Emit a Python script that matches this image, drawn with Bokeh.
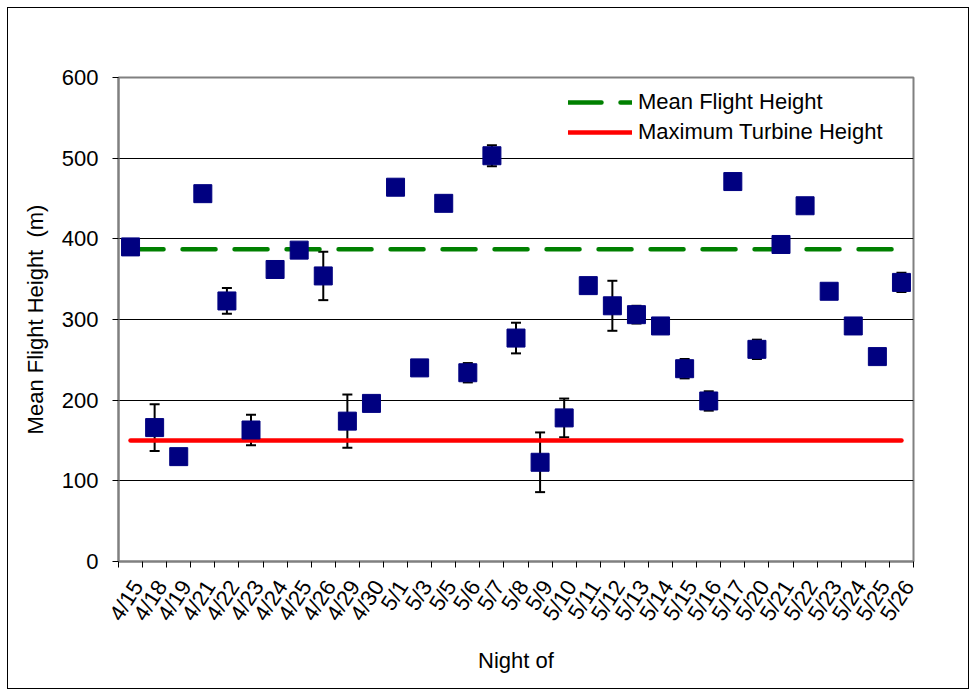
import math
from bokeh.plotting import figure
from bokeh.models import (Range1d, FixedTicker, Whisker, TeeHead, ColumnDataSource,
                          Legend, LegendItem)
from bokeh.embed import file_html
from bokeh.resources import INLINE

nights = ["4/15", "4/18", "4/19", "4/21", "4/22", "4/23", "4/24", "4/25", "4/26",
          "4/29", "4/30", "5/1", "5/3", "5/5", "5/6", "5/7", "5/8", "5/9", "5/10",
          "5/11", "5/12", "5/13", "5/14", "5/15", "5/16", "5/17", "5/20", "5/21",
          "5/22", "5/23", "5/24", "5/25", "5/26"]
mean_height = [390, 166, 130, 456, 323, 163, 362, 386, 354, 174, 196, 464, 240, 444,
               234, 503, 277, 123, 178, 342, 317, 306, 292, 239, 199, 471, 263, 393,
               441, 335, 292, 254, 346]
error = [0, 29, 0, 0, 16, 19, 0, 0, 30, 33, 0, 0, 0, 0, 12, 13, 19, 37, 24, 0, 31,
         11, 0, 12, 12, 0, 12, 0, 0, 0, 0, 0, 12]
mean_flight_height = 387
max_turbine_height = 150
y_ticks = [0, 100, 200, 300, 400, 500, 600]

FONT = "Liberation Sans"
n = len(nights)
xc = [i + 0.5 for i in range(n)]
LABEL_SHIFT = 0.3  # label anchor offset (styling only)
xl = [x + LABEL_SHIFT for x in xc]

src = ColumnDataSource(dict(
    x=xc, y=mean_height,
    upper=[m + e for m, e in zip(mean_height, error)],
    lower=[m - e for m, e in zip(mean_height, error)],
))

p = figure(width=962, height=682, output_backend="svg", toolbar_location=None,
           x_range=Range1d(0, n), y_range=Range1d(0, 600),
           min_border_left=110, min_border_right=57, min_border_top=69,
           min_border_bottom=129)
p.styles = {"margin-left": "7px", "margin-top": "7px", "border": "1px solid #000000"}
p.background_fill_color = "white"
p.border_fill_color = "white"
p.outline_line_color = "#808080"
p.outline_line_width = 2

# axes
p.xaxis.ticker = FixedTicker(ticks=xl, minor_ticks=list(range(n + 1)))
p.xaxis.major_label_overrides = {x: lab for x, lab in zip(xl, nights)}
p.xaxis.major_label_orientation = 1.0
p.xaxis.major_tick_out = 0
p.xaxis.major_tick_in = 0
p.xaxis.minor_tick_out = 6
p.xaxis.minor_tick_in = 0
p.xaxis.minor_tick_line_color = "#000000"
p.xaxis.axis_label = "Night of"
p.yaxis.ticker = FixedTicker(ticks=y_ticks)
p.yaxis.minor_tick_line_color = None
p.yaxis.major_tick_out = 6
p.yaxis.major_tick_in = 0
p.yaxis.axis_label = "Mean Flight Height\u00a0 (m)"
for ax in (p.xaxis, p.yaxis):
    ax.axis_line_color = "#808080"
    ax.axis_line_width = 2
    ax.major_tick_line_color = "#000000"
    ax.major_label_text_font = FONT
    ax.major_label_text_font_size = "22px"
    ax.major_label_text_color = "#000000"
    ax.axis_label_text_font = FONT
    ax.axis_label_text_font_size = "22px"
    ax.axis_label_text_font_style = "normal"
    ax.axis_label_text_color = "#000000"
p.yaxis.major_label_standoff = 14
p.yaxis.axis_label_standoff = 11
p.xaxis.major_label_standoff = 15
p.xaxis.axis_label_standoff = 13

p.xgrid.grid_line_color = None
p.ygrid.ticker = FixedTicker(ticks=y_ticks)
p.ygrid.grid_line_color = "#000000"
p.ygrid.grid_line_width = 1

# reference lines
x_ends = [xc[0], xc[-1]]
r_mean = p.line(x=x_ends, y=[mean_flight_height] * 2, line_color="#008000",
                line_width=4.5, line_dash="33 19", line_cap="round")
r_turb = p.line(x=x_ends, y=[max_turbine_height] * 2, line_color="#ff0000",
                line_width=4.5, line_cap="round")

# error bars
wh = Whisker(source=src, base="x", upper="upper", lower="lower",
             line_color="#000000", line_width=2,
             upper_head=TeeHead(size=10, line_color="#000000", line_width=2),
             lower_head=TeeHead(size=10, line_color="#000000", line_width=2))
p.add_layout(wh)

p.scatter(x="x", y="y", source=src, marker="square", size=18,
          fill_color="#000080", line_color="#000080")

legend = Legend(items=[LegendItem(label="Mean Flight Height", renderers=[r_mean]),
                       LegendItem(label="Maximum Turbine Height", renderers=[r_turb])],
                location=(450, 416), orientation="vertical")
legend.border_line_color = None
legend.background_fill_alpha = 0
legend.padding = 0
legend.margin = 0
legend.spacing = 4
legend.glyph_width = 64
legend.glyph_height = 24
legend.label_height = 24
legend.label_standoff = 6
legend.label_text_font = FONT
legend.label_text_font_size = "22px"
legend.label_text_color = "#000000"
p.add_layout(legend, "center")

open("out.html", "w").write(file_html(p, INLINE))
